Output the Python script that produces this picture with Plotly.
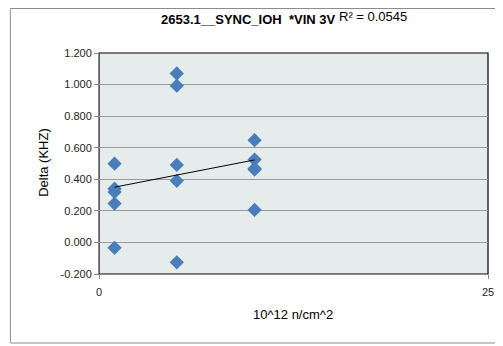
import numpy as np
import plotly.graph_objects as go

x_vals = [1, 1, 1, 1, 1, 5, 5, 5, 5, 5, 10, 10, 10, 10, 10]
delta = [0.499, 0.340, 0.319, 0.246, -0.034,
         1.070, 0.993, 0.491, 0.390, -0.126,
         0.648, 0.525, 0.468, 0.462, 0.206]
y_ticks = [-0.2, 0.0, 0.2, 0.4, 0.6, 0.8, 1.0, 1.2]
y_tick_text = ["-0.200", "0.000", "0.200", "0.400", "0.600", "0.800", "1.000", "1.200"]
x_ticks = [0, 25]
title_text = "2653.1__SYNC_IOH  *VIN 3V"
r2_text = "R² = 0.0545"

slope, intercept = np.polyfit(x_vals, delta, 1)
trend_x = [min(x_vals), max(x_vals)]
trend_y = [slope * v + intercept for v in trend_x]

# page body has an 8px margin; work in window coordinates and shift
OFF = 8
W, H = 503 - OFF, 346 - OFF
# plot area in window coords: x 99..494, y 53..274
L = 99 - OFF
T = 53 - OFF
R = W - (494 - OFF)
B = H - (274 - OFF)
pw, ph = W - L - R, H - T - B

def px(xw):
    return (xw - OFF - L) / pw

def py(yw):
    return (T + ph - (yw - OFF)) / ph

fig = go.Figure()
fig.add_trace(go.Scatter(x=x_vals, y=delta, mode="markers",
                         marker=dict(symbol="diamond", size=11, color="#4A7EBB",
                                     line=dict(width=0)),
                         showlegend=False))
fig.add_trace(go.Scatter(x=trend_x, y=trend_y, mode="lines",
                         line=dict(color="black", width=1), showlegend=False))

font_family = "Liberation Sans, Arial, sans-serif"
fig.update_layout(
    width=W, height=H,
    margin=dict(l=L, r=R, t=T, b=B),
    paper_bgcolor="white",
    plot_bgcolor="#E6ECEC",
    font=dict(family=font_family, size=11, color="#222"),
    xaxis=dict(range=[0, 25], tickvals=x_ticks, ticktext=["0", "25"],
               showgrid=False, zeroline=False, showline=True, linecolor="#888",
               linewidth=1, ticks="outside", ticklen=4, tickcolor="#888",
               ticklabelstandoff=4,
               tickfont=dict(size=11, color="#222")),
    yaxis=dict(range=[-0.2, 1.2], tickvals=y_ticks, ticktext=y_tick_text,
               showgrid=True, gridcolor="#9A9A9A", gridwidth=1, zeroline=False,
               showline=True, linecolor="#888", linewidth=1,
               ticks="outside", ticklen=4, tickcolor="#888",
               tickfont=dict(size=11, color="#222")),
    shapes=[
        dict(type="rect", xref="paper", yref="paper", x0=0, x1=1, y0=0, y1=1,
             line=dict(color="black", width=1.2), layer="below"),
        dict(type="rect", xref="paper", yref="paper",
             x0=px(9), x1=px(502), y0=py(343), y1=py(8.5),
             line=dict(color="#8C8C8C", width=1)),
    ],
    annotations=[
        dict(text="<b>" + title_text + "</b>", xref="paper", yref="paper",
             x=px(250), y=py(19), showarrow=False, xanchor="center", yanchor="middle",
             font=dict(size=13, color="black")),
        dict(text=r2_text, xref="paper", yref="paper", x=px(342), y=py(8),
             showarrow=False, xanchor="left", yanchor="top", borderpad=0,
             font=dict(size=13, color="black")),
        dict(text="Delta (KHZ)", xref="paper", yref="paper", x=px(42), y=py(162),
             showarrow=False, textangle=-90, xanchor="center", yanchor="middle",
             font=dict(size=13, color="black")),
        dict(text="10^12 n/cm^2", xref="paper", yref="paper", x=px(296), y=py(314),
             showarrow=False, xanchor="center", yanchor="middle",
             font=dict(size=13, color="black")),
    ],
)
fig.update_xaxes(layer="above traces")
fig.update_yaxes(layer="above traces")
fig.write_html("out.html")
